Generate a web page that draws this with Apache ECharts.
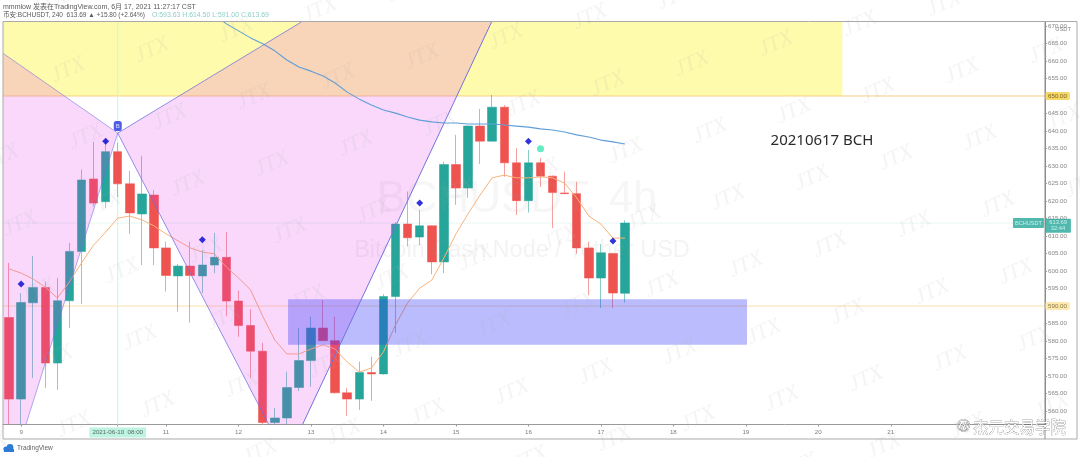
<!DOCTYPE html>
<html>
<head>
<meta charset="utf-8">
<style>
html,body{margin:0;padding:0;background:#fff;width:1080px;height:457px;overflow:hidden}
#chart{width:1080px;height:457px;filter:blur(0.45px)}
</style>
<script src="https://cdn.jsdelivr.net/npm/echarts@6/dist/echarts.min.js"></script>
</head>
<body>
<div id="chart"></div>
<script>
// ---- price data (4h candles) ----
const opens  = [586.7,563.4,590.9,595.3,573.7,591.5,605.6,626.3,619.8,634.1,624.9,616.3,621.7,606.6,598.6,601.4,598.6,601.7,603.9,591.4,584.4,577.1,556.7,558,566.7,574.4,583.7,580.1,565.2,563.4,571,570.6,592.7,613.4,609.7,612.9,602.6,630.4,623.7,641.4,637.1,646.8,630.9,620.1,630.9,627.1,622.3,622.1,606.6,598,605,593.63];
const closes = [563.4,591,595.3,573.7,591.5,605.6,626,619.4,634.1,624.9,616.6,622,606.6,598.7,601.4,598.7,601.7,603.9,591.4,584.4,577.1,556.7,558,566.7,574.4,583.7,580.1,565.2,563.4,571,570.6,592.7,613.4,609.5,612.9,602.6,630.4,623.7,641.4,637.1,646.8,630.9,620.1,630.9,627.1,622.4,622.1,606.6,598,605.2,593.7,613.69];
const lows   = [556.2,556.2,569.4,566.6,566,583.7,590.6,618.6,618,621.1,610.6,601.7,601.7,594.1,588.4,585.2,593.7,599.4,587.1,581.2,569.4,556.2,556.2,556.2,565.7,566.9,580,565,558.6,560.3,562.9,570.4,582.3,607,607.4,599.1,599.4,618.9,620.9,630.6,637,626.9,616,616.7,624,612.3,622,604.9,593.1,589.4,589.4,591];
const highs  = [602.3,593.7,604.3,596.9,598,608,629,636.9,637.4,636.6,628.6,632.9,623.1,608.4,602,608.4,606,610.9,611.1,594.4,589.1,579.5,560.9,571.2,583.7,586.9,591.7,586.9,566.6,574.1,575.5,593.4,614,622.7,617.4,613,631.2,638.9,641.6,646.3,650.3,647.4,635.1,634.6,632.3,627.3,628.4,625.5,608.4,607.7,605.2,614.5];
const emaFast = [600.6,599.4,597.7,595.4,592.3,596.9,602.3,607.4,611.1,615.1,615.7,614.6,612.9,610.6,608.6,606.6,605.4,604.9,601.1,598,594.6,587.1,580.3,576.3,576.3,577.7,578.9,577.7,574,571.1,572.3,576.9,584.6,590.9,595.1,597.4,603.7,610.6,616.3,621.7,626.6,627.4,626.6,626.6,626.9,626.6,625.1,620.9,615.7,613.4,609.4,609.4];
const emaSlowStart = 17;
const emaSlow = [673.1,670.6,668.6,666.6,664.9,662.9,660.3,658.3,657.1,655.7,653.7,651.1,649.1,647.4,646,645.1,644,643.1,642.6,642.3,642.3,642,642,642,641.7,641.4,641.1,640.6,640.3,639.7,638.9,638.3,637.4,636.9,636.3];

// ---- axis ticks ----
const dayTickIdx    = [1,9,13,19,25,31,37,43,49,55,61,67,73];
const dayTickLabels = ['9','2021-06-10  08:00','11','12','13','14','15','16','17','18','19','20','21'];
const priceTicks = [560,565,570,575,580,585,590,595,600,605,610,615,620,625,630,635,640,645,650,655,660,665,670];

// ---- annotations ----
const blueMarks = [[1,596.3],[8,637.1],[16,608.9],[34,619.4],[43,637.1],[50,608.6]];
const tealMarks = [[44,634.9]];
const bMark     = [[9,641.4]];
const crossIdx  = 9;
const lastPrice = 613.69;
const level1 = 650, level2 = 590;
const yellowZone = [[-0.5,650],[69,650],[69,671.14],[-0.5,671.14]];
const pinkLeft   = [[-0.5,662.2],[9,639.4],[1.4,556.14],[-0.5,556.14]];
const pinkRight  = [[9,639.4],[24.2,671.14],[39.95,671.14],[24.3,556.14],[21.5,556.14]];
const blueZone   = [[23.1,591.9],[61.1,591.9],[61.1,578.9],[23.1,578.9]];
const legA = [[-0.5,662.2],[9,639.4],[1.4,556.14]];
const legB = [[24.2,671.14],[9,639.4],[21.5,556.14]];
const legC = [[24.3,556.14],[39.95,671.14]];

const Y_MIN = 556.14, Y_MAX = 671.14, X_MIN = -0.5, X_MAX = 85.77;

const chart = echarts.init(document.getElementById('chart'), null, {renderer:'canvas'});

function polySeries(points, color, z){
  return {type:'custom', coordinateSystem:'cartesian2d', data:points, silent:true, z:z, clip:true,
    encode:{x:0,y:1},
    renderItem(params, api){
      if(params.dataIndex!==0) return null;
      return {type:'polygon', shape:{points:points.map(p=>api.coord(p))}, style:{fill:color}, silent:true};
    }};
}
function lineSeries(data, color, width, z, extra){
  return Object.assign({type:'line', data:data, showSymbol:false, symbol:'none', silent:true, z:z, clip:true,
    lineStyle:{color:color,width:width}, animation:false}, extra||{});
}

// faint watermark lattice
const wm = [];
for(let a=-8;a<=8;a++){
  for(let b=-6;b<=16;b++){
    const x=152+18*a+84*b, y=50+67*a-20*b;
    if(x<-20||x>1100||y<-20||y>477) continue;
    wm.push({type:'text', x:x, y:y, rotation:0.42, z:100, silent:true,
      style:{text:'JTX', font:'italic 22px "Liberation Serif"', fill:'rgba(175,175,180,0.14)', align:'center', verticalAlign:'middle'}});
  }
}

const option = {
  animation:false,
  backgroundColor:'#ffffff',
  grid:{left:3, top:22, width:1042, height:402.5, containLabel:false, show:false},
  xAxis:{type:'value', min:X_MIN, max:X_MAX, splitLine:{show:false},
    axisLine:{show:true,onZero:false,lineStyle:{color:'#9a9a9a',width:1}},
    axisTick:{show:true,length:2,lineStyle:{color:'#9a9a9a'},customValues:dayTickIdx},
    axisLabel:{show:true,margin:3,customValues:dayTickIdx,
      formatter:v=>{const i=dayTickIdx.indexOf(v);const s=dayTickLabels[i];return v===crossIdx?'{c|'+s+'}':'{n|'+s+'}';},
      rich:{
        c:{backgroundColor:'#bff3e1',color:'#5a6b66',padding:[2,3,2,3],fontSize:6.2,fontFamily:'Liberation Sans'},
        n:{color:'#7d7d7d',padding:[2,3,2,3],fontSize:6.2,fontFamily:'Liberation Sans'}
      }}},
  yAxis:{type:'value', position:'right', min:Y_MIN, max:Y_MAX, scale:true, splitLine:{show:false},
    axisLine:{show:true,onZero:false,lineStyle:{color:'#8d8d8d',width:1}},
    axisTick:{show:true,length:2,lineStyle:{color:'#9a9a9a'},customValues:priceTicks},
    axisLabel:{show:true,margin:0,customValues:priceTicks,
      formatter:v=>{const s=v.toFixed(2);return v===level1?'{a|'+s+'}':v===level2?'{b|'+s+'}':'{n|'+s+'}';},
      rich:{
        n:{color:'#858585',fontSize:6.2,padding:[1,3,1,3],fontFamily:'Liberation Sans'},
        a:{color:'#7a6420',fontSize:6.2,padding:[1,3,1,3],backgroundColor:'#f6d76a',borderRadius:2,fontFamily:'Liberation Sans'},
        b:{color:'#8a7a45',fontSize:6.2,padding:[1,3,1,3],backgroundColor:'#fde9b0',borderRadius:2,fontFamily:'Liberation Sans'}
      }}},
  series:[
    polySeries(yellowZone,'rgb(254,251,172)',1),
    lineSeries([[X_MIN,level1],[X_MAX,level1]],'#f7d184',1,1.5),
    lineSeries([[X_MIN,level2],[X_MAX,level2]],'#fbe0ac',1.2,1.5),
    lineSeries([[X_MIN,lastPrice],[X_MAX,lastPrice]],'rgba(170,225,215,0.7)',0.8,1.5,{lineStyle:{color:'rgba(170,225,215,0.7)',width:0.8,type:'dotted'}}),
    lineSeries([[crossIdx,Y_MIN],[crossIdx,Y_MAX]],'#c8f4e2',1,1.6),
    {type:'candlestick', data:opens.map((o,i)=>[i,o,closes[i],lows[i],highs[i]]),
      encode:{x:0,y:[1,2,3,4]}, barWidth:9, z:2, clip:true, silent:true,
      itemStyle:{color:'#26a69a',color0:'#ef5350',borderColor:'rgba(38,166,154,0.55)',borderColor0:'rgba(239,83,80,0.55)',borderWidth:1}},
    lineSeries(emaFast.map((v,i)=>[i,v]),'#f9b37a',1,2.5),
    polySeries(pinkLeft,'rgba(225,50,240,0.19)',3),
    polySeries(pinkRight,'rgba(225,50,240,0.19)',3),
    polySeries(blueZone,'rgba(46,52,248,0.33)',3.2),
    lineSeries(emaSlow.map((v,i)=>[i+emaSlowStart,v]),'#5f9fd8',1.1,4),
    lineSeries(legA,'rgba(110,110,225,0.55)',1,4),
    lineSeries(legB,'rgba(110,110,225,0.75)',1,4),
    lineSeries(legC,'#7272dc',1,4),
    {type:'scatter',data:blueMarks,symbol:'diamond',symbolSize:7,itemStyle:{color:'#0000d0'},z:5,silent:true},
    {type:'scatter',data:tealMarks,symbol:'circle',symbolSize:7,itemStyle:{color:'#3de8b4'},z:5,silent:true},
    {type:'scatter',data:bMark,symbol:'roundRect',symbolSize:[8,10],itemStyle:{color:'#2432e0'},z:5,silent:true,
      label:{show:true,formatter:'B',color:'#fff',fontSize:6,position:'inside',fontFamily:'Liberation Sans'}},
    {type:'scatter',clip:false,silent:true,z:6,symbolSize:1,itemStyle:{color:'rgba(0,0,0,0)'},
      data:[[84.4,lastPrice]],
      label:{show:true,position:'inside',formatter:'BCHUSDT',color:'#e9fffb',fontSize:5.6,backgroundColor:'#26a69a',padding:[2,2,2,2],borderRadius:1,fontFamily:'Liberation Sans'}},
    {type:'scatter',clip:false,silent:true,z:6,symbolSize:1,itemStyle:{color:'rgba(0,0,0,0)'},
      data:[[86.85,lastPrice-0.75]],
      label:{show:true,position:'inside',formatter:lastPrice.toFixed(2)+'\n32:44',color:'#e9fffb',fontSize:5.8,lineHeight:6,backgroundColor:'#26a69a',padding:[1,4,1,4],borderRadius:1,fontFamily:'Liberation Sans'}}
  ],
  graphic:[
    {type:'rect',shape:{x:3,y:21.5,width:1074,height:417.5},style:{fill:'none',stroke:'#a9a9a9',lineWidth:1},z:8,silent:true},
    {type:'line',shape:{x1:1045,y1:22,x2:1045,y2:439},style:{stroke:'#8d8d8d',lineWidth:1},z:8,silent:true},
    {type:'text',x:3,y:7,z:9,style:{text:'mmmlow 发表在TradingView.com, 6月 17, 2021 11:27:17 CST',font:'7px "Liberation Sans","Noto Sans CJK SC"',fill:'#5a5a5a',verticalAlign:'middle'}},
    {type:'text',x:3,y:15,z:9,style:{text:'币安:BCHUSDT, 240  613.69 ▲ +15.80 (+2.64%)',font:'6.5px "Liberation Sans","Noto Sans CJK SC"',fill:'#5a5a5a',verticalAlign:'middle'}},
    {type:'text',x:152,y:15,z:9,style:{text:'O:593.63 H:614.50 L:591.00 C:613.69',font:'6.9px "Liberation Sans"',fill:'#8fcfc6',verticalAlign:'middle'}},
    {type:'text',x:1071,y:29,z:9,style:{text:'USDT',font:'5.8px "Liberation Sans"',fill:'#858585',align:'right',verticalAlign:'middle'}},
    {type:'text',x:822,y:141,z:9,style:{text:'20210617 BCH',font:'15px "Noto Sans"',fill:'#2b2b2b',align:'center',verticalAlign:'middle'}},
    {type:'text',x:517,y:200,z:2.5,style:{text:'BCHUSDT, 4h',font:'44px "Liberation Sans"',fill:'rgba(150,150,150,0.09)',align:'center',verticalAlign:'middle'}},
    {type:'text',x:522,y:251,z:2.5,style:{text:'Bitcoin Cash Node / Tether USD',font:'23.5px "Liberation Sans"',fill:'rgba(150,150,150,0.11)',align:'center',verticalAlign:'middle'}},
    {type:'text',x:17,y:448,z:9,style:{text:'TradingView',font:'6.5px "Liberation Sans"',fill:'#5f6368',verticalAlign:'middle'}},
    {type:'circle',shape:{cx:6,cy:449,r:2.6},style:{fill:'#2e7bd6'},z:9,silent:true},
    {type:'circle',shape:{cx:10,cy:447.5,r:3.4},style:{fill:'#2e7bd6'},z:9,silent:true},
    {type:'rect',shape:{x:4,y:449,width:10,height:3},style:{fill:'#2e7bd6'},z:9,silent:true},
    {type:'text',x:957,y:427,z:20,style:{text:'Ⓦ',font:'13px "DejaVu Sans"',fill:'#fff',stroke:'#444',lineWidth:0.5,verticalAlign:'middle'}},
    {type:'text',x:973,y:427,z:20,style:{text:'杰元交易学院',font:'15.5px "Noto Sans CJK SC"',fill:'#fff',stroke:'#555',lineWidth:0.4,verticalAlign:'middle'}}
  ].concat(wm)
};
chart.setOption(option);
</script>
</body>
</html>
